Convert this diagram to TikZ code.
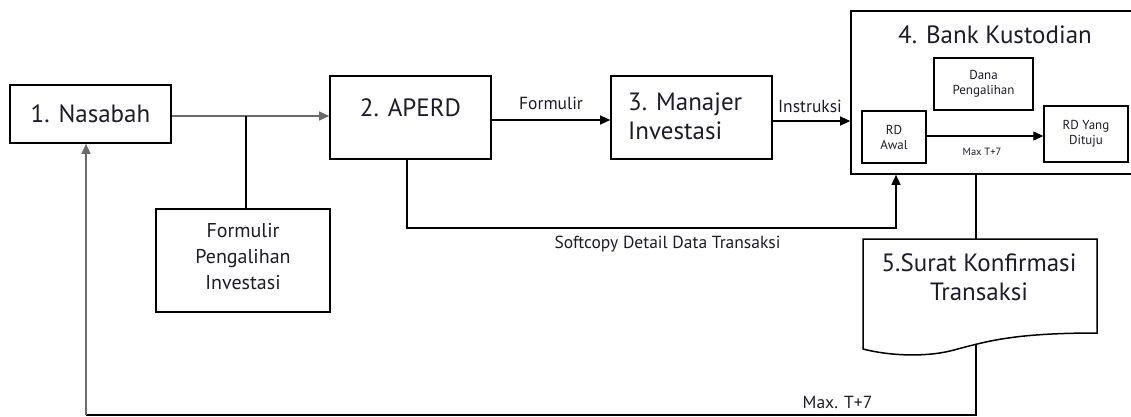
\documentclass[tikz,border=0pt]{standalone}
\usepackage{fontspec}
\setmainfont{PT Sans}
\usetikzlibrary{arrows.meta}
\definecolor{ink}{HTML}{1C1C2A}
\definecolor{greyline}{HTML}{6A6A6A}
\newcommand\fbig{\fontsize{25}{29}\selectfont}
\newcommand\fmid{\fontsize{20}{26}\selectfont}
\newcommand\flab{\fontsize{17.5}{20}\selectfont}
\newcommand\fsml{\fontsize{13}{15}\selectfont}
\newcommand\ftny{\fontsize{10.5}{12}\selectfont}
\begin{document}
\begin{tikzpicture}[x=1pt,y=-1pt,
  box/.style={draw=black, line width=1.6pt, inner sep=0pt, fill=white},
  ibox/.style={draw=black, line width=1.4pt, inner sep=0pt, fill=white},
  conn/.style={draw=black, line width=1.1pt},
  gconn/.style={draw=greyline, line width=1.2pt},
  arr/.style={-{Triangle[length=10pt,width=9pt]}},
  txt/.style={text=ink, inner sep=0pt, align=center}]
\useasboundingbox (0,0) rectangle (1131,416);
\fill[white] (0,0) rectangle (1131,416);

% main boxes
\node[box, txt, font=\fbig, minimum width=161pt, minimum height=58pt] (nasabah) at (90.5,114) {1. Nasabah};
\node[box, minimum width=161pt, minimum height=83pt] (aperd) at (410.5,117.5) {};
\node[txt, font=\fbig] (aperdtxt) at (410.5,108) {2. APERD};
\node[box, minimum width=174pt, minimum height=103pt] (formulir) at (243,260.5) {};
\node[txt, font=\fmid] (formtxt) at (243,257) {Formulir\\Pengalihan\\Investasi};
\node[box, minimum width=161pt, minimum height=83pt] (manajer) at (691.5,117.5) {};
\node[txt, font=\fbig, align=left, anchor=west] (mantxt) at (628,116.5) {3. Manajer\\Investasi};
\node[box, minimum width=283pt, minimum height=163pt] (bank) at (992.5,92.5) {};
\node[txt, font=\fbig] (banktxt) at (995,35) {4. Bank Kustodian};
\node[ibox, txt, font=\fsml, minimum width=99pt, minimum height=52pt] (dana) at (983.5,84) {Dana\\Pengalihan};
\node[ibox, txt, font=\fsml, minimum width=64pt, minimum height=52pt] (awal) at (894,137) {RD\\Awal};
\node[ibox, txt, font=\fsml, minimum width=84pt, minimum height=56pt] (tuju) at (1086,134) {RD Yang\\Dituju};
\node[txt, font=\ftny] (maxin) at (982,152) {Max T+7};

% document shape
\draw[line width=1.5pt, fill=white] (863,239) -- (1097,239) -- (1097,333)
  .. controls (1010,333) and (985,342) .. (950,351)
  .. controls (925,357) and (890,356) .. (863,349) -- cycle;
\node[txt, font=\fbig] (surat) at (979,277.5) {5.Surat Konfirmasi\\Transaksi};

% connectors
\coordinate (j1) at (246,116);
\draw[gconn,arr] (nasabah.east |- j1) -- (aperd.west |- j1);
\draw[conn] (formulir.north -| j1) -- (j1);

\coordinate (f1) at (491,120);
\draw[conn,arr] (aperd.east |- f1) -- (manajer.west |- f1);
\node[txt, font=\flab] (lform) at (551,103) {Formulir};

\coordinate (i1) at (772,121);
\draw[conn,arr] (manajer.east |- i1) -- (bank.west |- i1);
\node[txt, font=\flab] (linst) at (810,106) {Instruksi};

\coordinate (r1) at (926,136);
\draw[conn,arr] (awal.east |- r1) -- (tuju.west |- r1);

\coordinate (a1) at (407,228);
\coordinate (b1) at (896,228);
\draw[conn,arr] (aperd.south -| a1) -- (a1) -- (b1) -- (bank.south -| b1);
\node[txt, font=\flab] (lsoft) at (667.5,244) {Softcopy Detail Data Transaksi};

\coordinate (sTop) at (976,239);
\draw[conn] (bank.south -| sTop) -- (sTop);

\coordinate (w1) at (976,344);
\coordinate (c1) at (976,415);
\coordinate (c2) at (86,415);
\draw[conn] (w1) -- (c1) -- (c2);
\draw[gconn,arr] (c2) -- (nasabah.south -| c2);
\node[txt, font=\flab] (lmax) at (837.5,402) {Max. T+7};
\end{tikzpicture}
\end{document}
